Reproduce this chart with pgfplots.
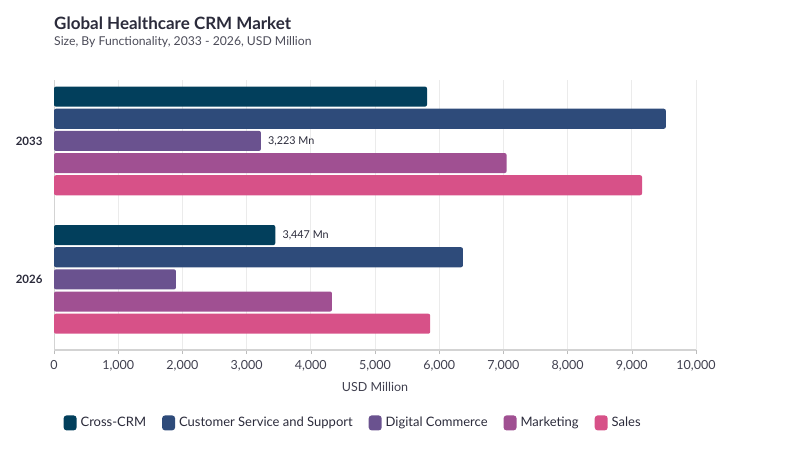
\documentclass[border=0pt]{standalone}
\usepackage{pgfplots}
\pgfplotsset{compat=1.18}
\usepackage{fontspec}
\setmainfont{Lato}
\definecolor{cA}{HTML}{023F5C}
\definecolor{cB}{HTML}{2E4B7A}
\definecolor{cC}{HTML}{6A528F}
\definecolor{cD}{HTML}{A05092}
\definecolor{cE}{HTML}{D75188}
\definecolor{txt}{HTML}{2B2B3B}
\definecolor{gridc}{HTML}{EBEBEB}
\begin{document}
\begin{tikzpicture}[x=1pt,y=1pt]
\path[use as bounding box] (0pt,0pt) rectangle (800pt,450pt);
\node[anchor=base west,font=\fontsize{17}{20}\selectfont\bfseries,text=txt,inner sep=0] at (54pt,420pt) {Global Healthcare CRM Market};
\node[anchor=base west,font=\fontsize{12.2}{14}\selectfont,text=txt!85,inner sep=0] at (54pt,404pt) {Size, By Functionality, 2033 - 2026, USD Million};
\begin{axis}[
  at={(54pt,100pt)}, anchor=south west,
  scale only axis, width=642pt, height=270pt,
  xmin=0, xmax=10000, ymin=-0.51, ymax=1.44,
  xtick={0,1000,...,10000},
  ytick={0,1}, yticklabels={2026,2033},
  yticklabel style={font=\fontsize{11.5}{13}\selectfont\bfseries, text=txt, xshift=-4pt},
  xticklabel style={font=\fontsize{12.5}{14}\selectfont, text=txt!90, yshift=-3pt},
  /pgf/number format/assume math mode=true,
  /pgf/number format/1000 sep={,},
  scaled x ticks=false,
  xmajorgrids, grid style={gridc, line width=0.8pt},
  axis x line*=bottom, axis y line*=left,
  x axis line style={draw=gridc!90!black, line width=1.6pt, -},
  y axis line style={draw=gridc!90!black, line width=0.8pt, -},
  major tick length=4pt, tick align=outside,
  xtick style={gridc!80!black, line width=0.6pt},
  ytick style={draw=none},
  xlabel={USD Million},
  xlabel style={font=\fontsize{12.5}{14}\selectfont, text=txt!90, yshift=-4pt},
  xbar, bar width=0.145,
  every axis plot/.append style={draw=none, rounded corners=2pt},
  legend columns=5,
  legend style={at={(0.01,-0.27)}, anchor=west, draw=none, fill=none,
    font=\fontsize{13}{15}\selectfont, text=txt,
    /tikz/every odd column/.append style={column sep=2pt},
    /tikz/every even column/.append style={column sep=14pt}},
  legend image code/.code={\draw[#1, draw=none, rounded corners=3pt] (0pt,-7.5pt) rectangle (13pt,7.5pt);},
]
\addplot[fill=cA, bar shift=0.32] coordinates {(3447,0) (5810,1)};
\addplot[fill=cB, bar shift=0.16] coordinates {(6370,0) (9530,1)};
\addplot[fill=cC, bar shift=0] coordinates {(1900,0) (3223,1)};
\addplot[fill=cD, bar shift=-0.16] coordinates {(4330,0) (7050,1)};
\addplot[fill=cE, bar shift=-0.32] coordinates {(5860,0) (9160,1)};
\legend{Cross-CRM, Customer Service and Support, Digital Commerce, Marketing, Sales}
\node[anchor=west, font=\fontsize{10.8}{12}\selectfont, text=txt, inner sep=0] at (axis cs:3223,1) [xshift=7pt] {3,223 Mn};
\node[anchor=west, font=\fontsize{10.8}{12}\selectfont, text=txt, inner sep=0] at (axis cs:3447,0.32) [xshift=7pt] {3,447 Mn};
\end{axis}
\end{tikzpicture}
\end{document}
